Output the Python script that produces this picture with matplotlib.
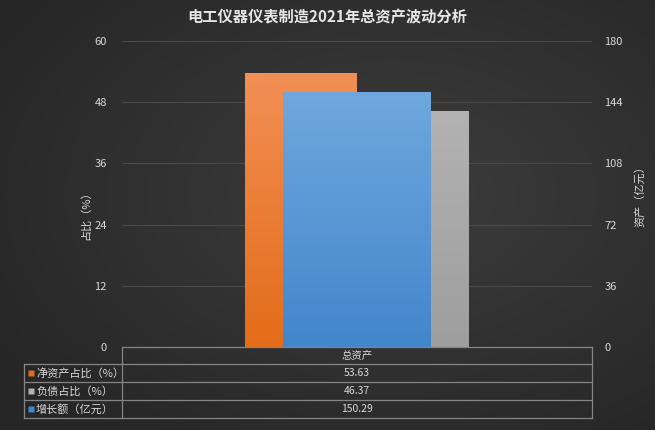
import numpy as np
import matplotlib.pyplot as plt
from matplotlib.colors import LinearSegmentedColormap
from matplotlib.lines import Line2D

plt.rcParams['font.family'] = ['Noto Sans CJK SC', 'DejaVu Sans']

# data
title = "电工仪器仪表制造2021年总资产波动分析"
categories = ["总资产"]
net_asset_pct = [53.63]
debt_pct = [46.37]
growth = [150.29]
series_names = ["净资产占比（%）", "负债占比（%）", "增长额（亿元）"]
left_ticks = [0, 12, 24, 36, 48, 60]
right_ticks = [0, 36, 72, 108, 144, 180]

orange = ("#f28f55", "#e46c19")
gray = ("#b2b2b2", "#9e9e9e")
blue = ("#70a7de", "#4286cb")
txt = "#d9d9d9"
W, H = 655, 430

fig = plt.figure(figsize=(W / 100, H / 100), dpi=100)

# dark gradient background
bg = fig.add_axes([0, 0, 1, 1], zorder=-10)
yy, xx = np.mgrid[0:1:200j, 0:1:300j]
r = np.sqrt(((xx - 0.6) / 0.9) ** 2 + ((yy - 0.45) / 0.9) ** 2)
bg_cmap = LinearSegmentedColormap.from_list("bg", ["#3d3d3d", "#262626"])
bg.imshow(r, cmap=bg_cmap, aspect="auto", extent=[0, 1, 0, 1], vmin=0, vmax=0.8)
bg.axis("off")


def gradient_bars(axis, bars, cols):
    cm = LinearSegmentedColormap.from_list("g", [cols[1], cols[0]])
    grad = np.linspace(0, 1, 100).reshape(-1, 1)
    for b in bars:
        x0, y0 = b.get_x(), b.get_y()
        im = axis.imshow(grad, cmap=cm, aspect="auto", origin="lower",
                         extent=[x0, x0 + b.get_width(), y0, y0 + b.get_height()],
                         zorder=b.get_zorder())
        im.set_clip_path(b)
        b.set_facecolor(cols[1])


left, right = 122, 592
top, bottom = 41, 347
ax = fig.add_axes([left / W, (H - bottom) / H, (right - left) / W, (bottom - top) / H])
ax.set_facecolor("none")
x = np.arange(len(categories))
w = 0.238
b1 = ax.bar(x - w / 2, net_asset_pct, w, color=orange[1], zorder=2)
b2 = ax.bar(x + w / 2, debt_pct, w, color=gray[1], zorder=2)
gradient_bars(ax, b1, orange)
gradient_bars(ax, b2, gray)
ax.set_xlim(-0.5, 0.5)
ax.set_ylim(0, 60)
ax.set_yticks(left_ticks)
ax.set_xticks([])
ax.grid(axis="y", color="#4a4a4a", lw=0.8, zorder=0)
ax.set_axisbelow(True)
for s in ax.spines.values():
    s.set_visible(False)
ax.tick_params(axis="y", length=0, colors=txt, labelsize=8, pad=11)
ax.set_ylabel("占比（%）", color=txt, fontsize=8)
ax.yaxis.set_label_coords(-0.065, 0.44)

ax2 = ax.twinx()
b3 = ax2.bar(x, growth, 0.313, color=blue[1], zorder=2)
gradient_bars(ax2, b3, blue)
ax2.set_xlim(-0.5, 0.5)
ax2.set_ylim(0, 180)
ax2.set_yticks(right_ticks)
for s in ax2.spines.values():
    s.set_visible(False)
ax2.tick_params(axis="y", length=0, colors=txt, labelsize=8, pad=9)
ax2.set_ylabel("资产（亿元）", color=txt, fontsize=8, rotation=90)
ax2.yaxis.set_label_coords(1.091, 0.5)

# data table under the plot
tab = fig.add_axes([0, 0, 1, 1], zorder=5)
tab.set_xlim(0, W)
tab.set_ylim(H, 0)
tab.axis("off")
lc = "#858585"
row_y = [347, 364, 382, 400, 418]
tab.add_line(Line2D([left, right], [row_y[0], row_y[0]], color=lc, lw=0.9))
for yv in row_y[1:]:
    tab.add_line(Line2D([24, right], [yv, yv], color=lc, lw=0.9))
tab.add_line(Line2D([24, 24], [row_y[1], row_y[-1]], color=lc, lw=0.9))
tab.add_line(Line2D([left, left], [row_y[0], row_y[-1]], color=lc, lw=0.9))
tab.add_line(Line2D([right, right], [row_y[0], row_y[-1]], color=lc, lw=0.9))
mid = (left + right) / 2
tab.text(mid, (row_y[0] + row_y[1]) / 2, categories[0], color=txt, fontsize=7.5,
         ha="center", va="center")
values = [net_asset_pct[0], debt_pct[0], growth[0]]
colors = [orange[1], gray[0], blue[1]]
for i, (name, val, c) in enumerate(zip(series_names, values, colors)):
    yc = (row_y[i + 1] + row_y[i + 2]) / 2
    tab.plot(31, yc, marker="s", ms=4.5, color=c, mec="none")
    tab.text(36, yc, name, color=txt, fontsize=8, ha="left", va="center")
    tab.text(mid, yc, f"{val:.2f}", color=txt, fontsize=7.5, ha="center", va="center")

fig.text(0.5, 1 - 17 / H, title, color="#e6e6e6", fontsize=11, fontweight="bold",
         ha="center", va="center")

fig.savefig("out.png", dpi=100)
